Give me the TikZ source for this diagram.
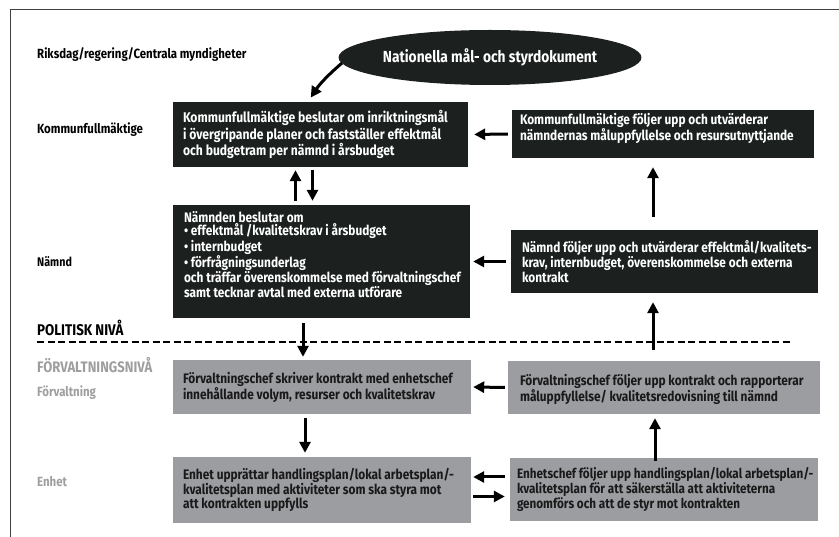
\documentclass[tikz,border=0pt]{standalone}
\usepackage{fontspec}
\setmainfont{Fira Sans}[FakeStretch=0.86]
\usetikzlibrary{arrows.meta,shapes.geometric}
\definecolor{blk}{HTML}{1C2120}
\definecolor{gbox}{HTML}{9C9DA0}
\definecolor{glab}{HTML}{9E9E9E}
\begin{document}
\begin{tikzpicture}[x=1pt,y=-1pt,
  blkbox/.style={fill=blk, draw=none, inner sep=0pt},
  grybox/.style={fill=gbox, draw=none, inner sep=0pt},
  wtxt/.style={text=white, font=\bfseries\fontsize{13.8}{15}\selectfont, align=left, inner sep=0pt, anchor=west},
  ktxt/.style={text=black!90, font=\bfseries\fontsize{13.8}{14.6}\selectfont, align=left, inner sep=0pt, anchor=west},
  lab/.style={font=\bfseries\fontsize{13.3}{15}\selectfont, anchor=west, inner sep=0pt},
  arr/.style={line width=3pt, -{Triangle[length=11pt,width=11pt]}}
]
\useasboundingbox (0,0) rectangle (839,537);
% frame
\draw[line width=1.4pt, draw=black!75] (10.5,537) -- (10.5,9.5) -- (839,9.5);

% left labels
\node[lab] (l1) at (37,55) {Riksdag/regering/Centrala myndigheter};
\node[lab] (l2) at (37,130) {Kommunfullmäktige};
\node[lab, font=\bfseries\fontsize{12.5}{14}\selectfont] (l3) at (37,262) {Nämnd};
\node[lab, font=\bfseries\fontsize{15.5}{17}\selectfont] (l4) at (37,328) {POLITISK NIVÅ};
\node[lab, text=glab, font=\bfseries\fontsize{15.2}{17}\selectfont] (l5) at (37,365) {FÖRVALTNINGSNIVÅ};
\node[lab, text=glab] (l6) at (37,393) {Förvaltning};
\node[lab, text=glab] (l7) at (37,482) {Enhet};

% ellipse
\node[ellipse, fill=blk, minimum width=276pt, minimum height=55pt, inner sep=0pt,
  text=white, font=\bfseries\fontsize{16}{18}\selectfont] (ell) at (490,57.5) {Nationella mål- och styrdokument};

% boxes
\node[blkbox, minimum width=295pt, minimum height=65pt] (b1) at (320.5,134.5) {};
\node[wtxt, font=\bfseries\fontsize{14.1}{15.2}\selectfont] (t1) at ([xshift=10pt]b1.west) {Kommunfullmäktige beslutar om inriktningsmål\\i övergripande planer och fastställer effektmål\\och budgetram per nämnd i årsbudget};

\node[blkbox, minimum width=302pt, minimum height=48pt] (b2) at (663,134) {};
\node[wtxt, anchor=north west] (t2) at ([shift={(8,3)}]b2.north west) {Kommunfullmäktige följer upp och utvärderar\\nämndernas måluppfyllelse och resursutnyttjande};

\node[blkbox, minimum width=297pt, minimum height=113pt] (b3) at (321.5,261.5) {};
\node[wtxt, anchor=north west, font=\bfseries\fontsize{13.8}{13.8}\selectfont] (t3) at ([shift={(11,6)}]b3.north west) {Nämnden beslutar om\\• effektmål /kvalitetskrav i årsbudget\\• internbudget\\• förfrågningsunderlag\\och träffar överenskommelse med förvaltningschef\\samt tecknar avtal med externa utförare};

\node[blkbox, minimum width=307pt, minimum height=63pt] (b4) at (664.5,261.5) {};
\node[wtxt] (t4) at ([xshift=11pt]b4.west) {Nämnd följer upp och utvärderar effektmål/kvalitets-\\krav, internbudget, överenskommelse och externa\\kontrakt};

\node[grybox, minimum width=298pt, minimum height=54pt] (b5) at (322,387) {};
\node[ktxt] (t5) at ([xshift=10pt]b5.west) {Förvaltningschef skriver kontrakt med enhetschef\\innehållande volym, resurser och kvalitetskrav};

\node[grybox, minimum width=312pt, minimum height=53pt] (b6) at (664,387.5) {};
\node[ktxt] (t6) at ([xshift=12pt,yshift=-1.5pt]b6.west) {Förvaltningschef följer upp kontrakt och rapporterar\\måluppfyllelse/ kvalitetsredovisning till nämnd};

\node[grybox, minimum width=298pt, minimum height=66pt] (b7) at (322,490) {};
\node[ktxt] (t7) at ([xshift=10pt]b7.west) {Enhet upprättar handlingsplan/lokal arbetsplan/-\\kvalitetsplan med aktiviteter som ska styra mot\\att kontrakten uppfylls};

\node[grybox, minimum width=308pt, minimum height=63pt] (b8) at (664,489.5) {};
\node[ktxt, font=\bfseries\fontsize{13.6}{14.6}\selectfont] (t8) at ([xshift=7pt]b8.west) {Enhetschef följer upp handlingsplan/lokal arbetsplan/-\\kvalitetsplan för att säkerställa att aktiviteterna\\genomförs och att de styr mot kontrakten};

% dashed line
\coordinate (d1) at (37,342);
\coordinate (d2) at (790,342);
\draw[line width=2.6pt, dash pattern=on 7pt off 3.5pt] (d1) -- (d2);

% arrows
\coordinate (a0) at (342,63);
\draw[arr, shorten >=5pt] (a0) to[bend right=8] ([xshift=-12.5pt]b1.north);
\draw[arr, shorten <=4pt, shorten >=6pt] (b2.west) -- (b1.east);
\draw[arr, shorten <=4pt, shorten >=3pt] ([xshift=-26pt]b3.north) -- ([xshift=-26pt]b3.north |- b1.south);
\draw[arr, shorten <=3pt, shorten >=4pt] ([xshift=-8pt]b1.south) -- ([xshift=-8pt]b1.south |- b3.north);
\draw[arr, shorten <=5pt, shorten >=3pt] (b4.west) -- (b3.east);
\draw[arr, shorten <=13pt, shorten >=9pt] ([xshift=-11.5pt]b4.north) -- ([xshift=-11.5pt]b4.north |- b2.south);
\draw[arr, shorten <=5pt, shorten >=3pt] ([xshift=-18.5pt]b3.south) -- ([xshift=-18.5pt]b3.south |- b5.north);
\draw[arr, shorten <=11pt, shorten >=9pt] ([xshift=-11pt]b6.north) -- ([xshift=-11pt]b6.north |- b4.south);
\draw[arr, shorten <=3pt, shorten >=2pt] (b6.west) -- (b5.east);
\draw[arr, shorten <=4pt, shorten >=4pt] ([xshift=-17pt]b5.south) -- ([xshift=-17pt]b5.south |- b7.north);
\draw[arr, shorten <=-3pt, shorten >=4pt] ([xshift=-9pt]b8.north) -- ([xshift=-9pt]b8.north |- b6.south);
\draw[arr, shorten <=5pt, shorten >=2pt] ([yshift=12.5pt]b8.west) -- ([yshift=12.5pt]b8.west -| b7.east);
\draw[arr, shorten <=2pt, shorten >=5pt] ([yshift=-6.5pt]b7.east) -- ([yshift=-6.5pt]b7.east -| b8.west);
\end{tikzpicture}
\end{document}
